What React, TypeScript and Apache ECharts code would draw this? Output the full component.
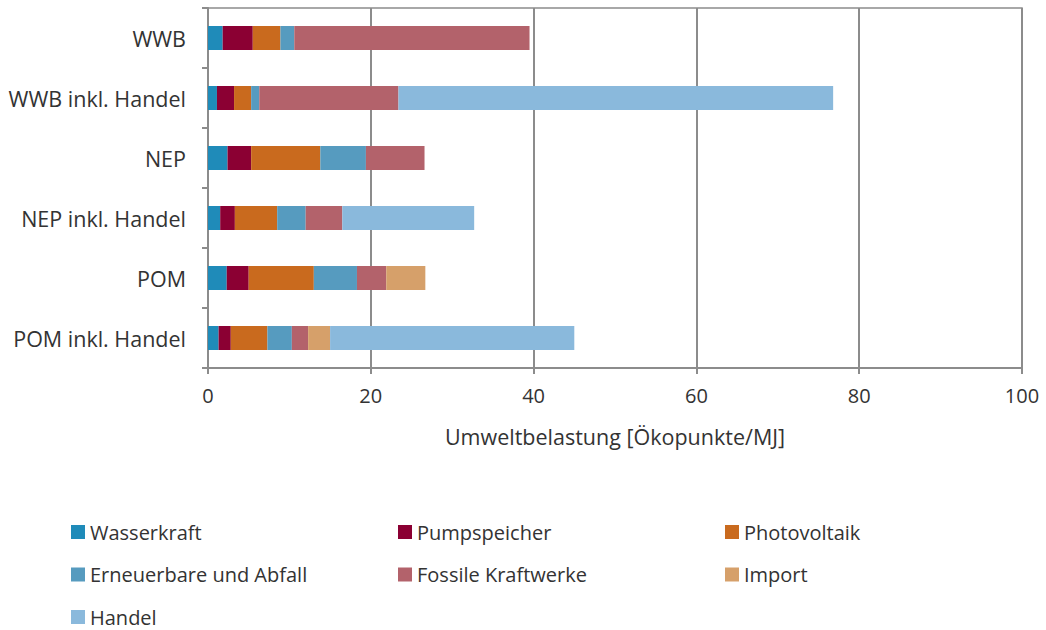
import React, { useEffect, useRef } from "react";
import * as echarts from "echarts";

const categories = ["WWB", "WWB inkl. Handel", "NEP", "NEP inkl. Handel", "POM", "POM inkl. Handel"];
const seriesNames = ["Wasserkraft", "Pumpspeicher", "Photovoltaik", "Erneuerbare und Abfall", "Fossile Kraftwerke", "Import", "Handel"];
const wasserkraft = [1.8, 1.1, 2.4, 1.5, 2.3, 1.3];
const pumpspeicher = [3.7, 2.1, 2.9, 1.8, 2.7, 1.5];
const photovoltaik = [3.4, 2.1, 8.5, 5.2, 8.0, 4.5];
const erneuerbare = [1.7, 1.0, 5.6, 3.5, 5.3, 3.0];
const fossile = [28.9, 17.1, 7.2, 4.5, 3.6, 2.0];
const importVals = [0, 0, 0, 0, 4.8, 2.7];
const handel = [0, 53.4, 0, 16.2, 0, 30.0];
const xTicks = [0, 20, 40, 60, 80, 100];

const colors = ["#1f8bb9", "#8b0033", "#c96a1e", "#569bbf", "#b3626b", "#d6a06a", "#8ab9dc"];
const values = [wasserkraft, pumpspeicher, photovoltaik, erneuerbare, fossile, importVals, handel];

const FONT = "'Open Sans', sans-serif";
const TEXT = "#333333";
const GRAY = "#8c8c8c";

export default function App() {
  const ref = useRef<HTMLDivElement>(null);
  useEffect(() => {
    if (!ref.current) return;
    const chart = echarts.init(ref.current, null, { renderer: "svg" });
    const legendCol = (names: string[], left: number) => ({
      orient: "vertical",
      left,
      top: 522,
      height: 200,
      padding: 0,
      itemWidth: 14,
      itemHeight: 14,
      itemGap: 22.5,
      icon: "rect",
      data: names,
      textStyle: { fontFamily: FONT, fontSize: 20, color: TEXT },
      selectedMode: false,
    });
    chart.setOption({
      animation: false,
      color: colors,
      textStyle: { fontFamily: FONT },
      grid: {
        left: 208,
        right: 24,
        top: 8,
        bottom: 262,
        show: true,
        borderColor: GRAY,
        borderWidth: 1.5,
        containLabel: false,
      },
      legend: [
        legendCol([seriesNames[0], seriesNames[3], seriesNames[6]], 71),
        legendCol([seriesNames[1], seriesNames[4]], 398),
        legendCol([seriesNames[2], seriesNames[5]], 725),
      ],
      xAxis: {
        type: "value",
        min: 0,
        max: 100,
        interval: 20,
        name: "Umweltbelastung [Ökopunkte/MJ]",
        nameLocation: "middle",
        nameGap: 57,
        nameTextStyle: { fontFamily: FONT, fontSize: 21.5, color: TEXT },
        axisLine: { show: true, lineStyle: { color: GRAY, width: 2 } },
        axisTick: { show: true, length: 6, lineStyle: { color: GRAY, width: 2 } },
        axisLabel: {
          fontFamily: FONT,
          fontSize: 20,
          color: TEXT,
          margin: 17,
          formatter: (v: number) => (xTicks.includes(v) ? String(v) : ""),
        },
        splitLine: { show: true, lineStyle: { color: GRAY, width: 2 } },
      },
      yAxis: {
        type: "category",
        data: categories,
        inverse: true,
        axisLine: { show: true, lineStyle: { color: GRAY, width: 2 } },
        axisTick: { show: true, length: 6, lineStyle: { color: GRAY, width: 2 } },
        axisLabel: { fontFamily: FONT, fontSize: 21.5, color: TEXT, margin: 22 },
        splitLine: { show: false },
      },
      series: seriesNames.map((name, i) => ({
        name,
        type: "bar",
        stack: "total",
        barWidth: 24,
        data: values[i],
        itemStyle: { color: colors[i] },
      })),
    });
    return () => chart.dispose();
  }, []);
  return (
    <div
      ref={ref}
      style={{ position: "fixed", left: 0, top: 0, width: 1046, height: 630, background: "#fff" }}
    />
  );
}
